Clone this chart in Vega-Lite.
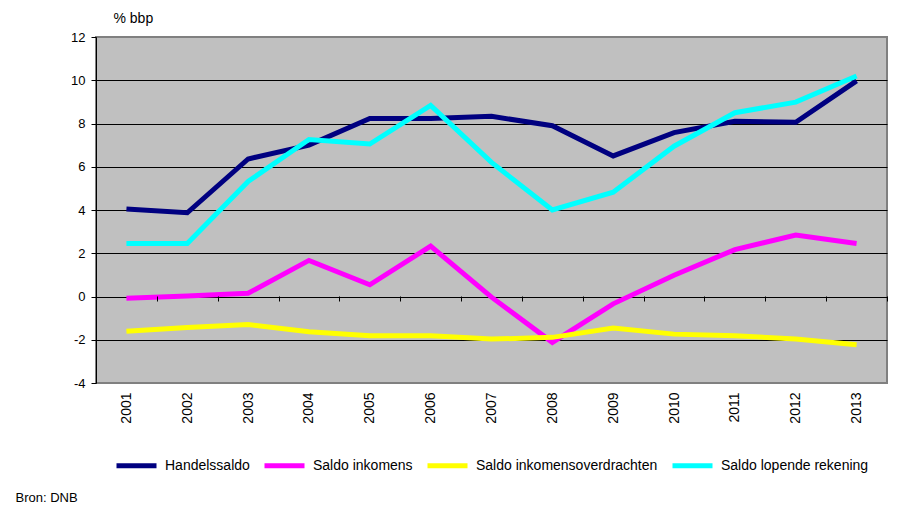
{
  "$schema": "https://vega.github.io/schema/vega-lite/v6.json",
  "width": 791,
  "height": 346,
  "autosize": {"type": "none"},
  "padding": {"left": 96, "top": 37, "right": 23, "bottom": 146},
  "background": "white",
  "config": {
    "font": "Liberation Sans",
    "view": {"fill": "#C0C0C0", "stroke": "#808080", "strokeWidth": 2}
  },
  "data": {
    "values": [
      {"jaar": "2001", "reeks": "Handelssaldo", "waarde": 4.05},
      {"jaar": "2002", "reeks": "Handelssaldo", "waarde": 3.87},
      {"jaar": "2003", "reeks": "Handelssaldo", "waarde": 6.36},
      {"jaar": "2004", "reeks": "Handelssaldo", "waarde": 7.0},
      {"jaar": "2005", "reeks": "Handelssaldo", "waarde": 8.23},
      {"jaar": "2006", "reeks": "Handelssaldo", "waarde": 8.23},
      {"jaar": "2007", "reeks": "Handelssaldo", "waarde": 8.33},
      {"jaar": "2008", "reeks": "Handelssaldo", "waarde": 7.9},
      {"jaar": "2009", "reeks": "Handelssaldo", "waarde": 6.5},
      {"jaar": "2010", "reeks": "Handelssaldo", "waarde": 7.58},
      {"jaar": "2011", "reeks": "Handelssaldo", "waarde": 8.1},
      {"jaar": "2012", "reeks": "Handelssaldo", "waarde": 8.06},
      {"jaar": "2013", "reeks": "Handelssaldo", "waarde": 9.97},
      {"jaar": "2001", "reeks": "Saldo inkomens", "waarde": -0.08},
      {"jaar": "2002", "reeks": "Saldo inkomens", "waarde": 0.02},
      {"jaar": "2003", "reeks": "Saldo inkomens", "waarde": 0.15},
      {"jaar": "2004", "reeks": "Saldo inkomens", "waarde": 1.67},
      {"jaar": "2005", "reeks": "Saldo inkomens", "waarde": 0.54},
      {"jaar": "2006", "reeks": "Saldo inkomens", "waarde": 2.33},
      {"jaar": "2007", "reeks": "Saldo inkomens", "waarde": -0.03},
      {"jaar": "2008", "reeks": "Saldo inkomens", "waarde": -2.12},
      {"jaar": "2009", "reeks": "Saldo inkomens", "waarde": -0.34},
      {"jaar": "2010", "reeks": "Saldo inkomens", "waarde": 0.98},
      {"jaar": "2011", "reeks": "Saldo inkomens", "waarde": 2.17},
      {"jaar": "2012", "reeks": "Saldo inkomens", "waarde": 2.84},
      {"jaar": "2013", "reeks": "Saldo inkomens", "waarde": 2.45},
      {"jaar": "2001", "reeks": "Saldo inkomensoverdrachten", "waarde": -1.61},
      {"jaar": "2002", "reeks": "Saldo inkomensoverdrachten", "waarde": -1.43},
      {"jaar": "2003", "reeks": "Saldo inkomensoverdrachten", "waarde": -1.3},
      {"jaar": "2004", "reeks": "Saldo inkomensoverdrachten", "waarde": -1.63},
      {"jaar": "2005", "reeks": "Saldo inkomensoverdrachten", "waarde": -1.81},
      {"jaar": "2006", "reeks": "Saldo inkomensoverdrachten", "waarde": -1.81},
      {"jaar": "2007", "reeks": "Saldo inkomensoverdrachten", "waarde": -1.97},
      {"jaar": "2008", "reeks": "Saldo inkomensoverdrachten", "waarde": -1.89},
      {"jaar": "2009", "reeks": "Saldo inkomensoverdrachten", "waarde": -1.46},
      {"jaar": "2010", "reeks": "Saldo inkomensoverdrachten", "waarde": -1.74},
      {"jaar": "2011", "reeks": "Saldo inkomensoverdrachten", "waarde": -1.81},
      {"jaar": "2012", "reeks": "Saldo inkomensoverdrachten", "waarde": -1.97},
      {"jaar": "2013", "reeks": "Saldo inkomensoverdrachten", "waarde": -2.23},
      {"jaar": "2001", "reeks": "Saldo lopende rekening", "waarde": 2.45},
      {"jaar": "2002", "reeks": "Saldo lopende rekening", "waarde": 2.45},
      {"jaar": "2003", "reeks": "Saldo lopende rekening", "waarde": 5.32},
      {"jaar": "2004", "reeks": "Saldo lopende rekening", "waarde": 7.26},
      {"jaar": "2005", "reeks": "Saldo lopende rekening", "waarde": 7.05},
      {"jaar": "2006", "reeks": "Saldo lopende rekening", "waarde": 8.84},
      {"jaar": "2007", "reeks": "Saldo lopende rekening", "waarde": 6.2},
      {"jaar": "2008", "reeks": "Saldo lopende rekening", "waarde": 4.0},
      {"jaar": "2009", "reeks": "Saldo lopende rekening", "waarde": 4.82},
      {"jaar": "2010", "reeks": "Saldo lopende rekening", "waarde": 6.95},
      {"jaar": "2011", "reeks": "Saldo lopende rekening", "waarde": 8.5},
      {"jaar": "2012", "reeks": "Saldo lopende rekening", "waarde": 8.99},
      {"jaar": "2013", "reeks": "Saldo lopende rekening", "waarde": 10.2}
    ]
  },
  "mark": {"type": "line", "strokeWidth": 5, "strokeJoin": "miter"},
  "encoding": {
    "x": {
      "field": "jaar",
      "type": "ordinal",
      "scale": {"type": "point", "padding": 0.5},
      "axis": {
        "offset": -87,
        "zindex": 1,
        "labelAngle": 270,
        "labelAlign": "right",
        "labelBaseline": "middle",
        "labelFontSize": 14,
        "labelColor": "black",
        "labelPadding": 91,
        "labelOffset": -30.4,
        "ticks": true,
        "tickOffset": 30.4,
        "tickSize": 5,
        "tickColor": "#000000",
        "tickWidth": 1,
        "tickOpacity": 1,
        "domain": false,
        "grid": false,
        "title": "Bron: DNB",
        "titleX": -81,
        "titleY": 201,
        "titleAlign": "left",
        "titleAngle": 0,
        "titleBaseline": "middle",
        "titleFontSize": 13,
        "titleFontWeight": "normal",
        "titleColor": "black"
      }
    },
    "y": {
      "field": "waarde",
      "type": "quantitative",
      "scale": {"domain": [-4, 12], "nice": false, "zero": false},
      "axis": {
        "values": [-4, -2, 0, 2, 4, 6, 8, 10, 12],
        "labelExpr": "'' + datum.value",
        "labelFontSize": 13,
        "labelColor": "black",
        "labelPadding": 6,
        "tickColor": "black",
        "tickSize": 5,
        "domainColor": "black",
        "domainWidth": 1,
        "grid": true,
        "gridColor": {"condition": {"test": "datum.value == 12 || datum.value == -4", "value": "#808080"}, "value": "black"},
        "gridWidth": 1,
        "gridOpacity": 1,
        "title": "% bbp",
        "titleAngle": 0,
        "titleX": 17,
        "titleY": -19,
        "titleAlign": "left",
        "titleBaseline": "middle",
        "titleFontSize": 14,
        "titleFontWeight": "normal",
        "titleColor": "black"
      }
    },
    "color": {
      "field": "reeks",
      "type": "nominal",
      "scale": {
        "domain": ["Handelssaldo", "Saldo inkomens", "Saldo inkomensoverdrachten", "Saldo lopende rekening"],
        "range": ["#000080", "#FF00FF", "#FFFF00", "#00FFFF"]
      },
      "legend": {
        "title": null,
        "orient": "none",
        "direction": "horizontal",
        "legendX": 18,
        "legendY": 406,
        "symbolType": "stroke",
        "symbolSize": 1600,
        "symbolStrokeWidth": 5,
        "labelFontSize": 14,
        "labelColor": "black",
        "labelOffset": 6,
        "columnPadding": 4,
        "labelLimit": 300
      }
    }
  }
}
